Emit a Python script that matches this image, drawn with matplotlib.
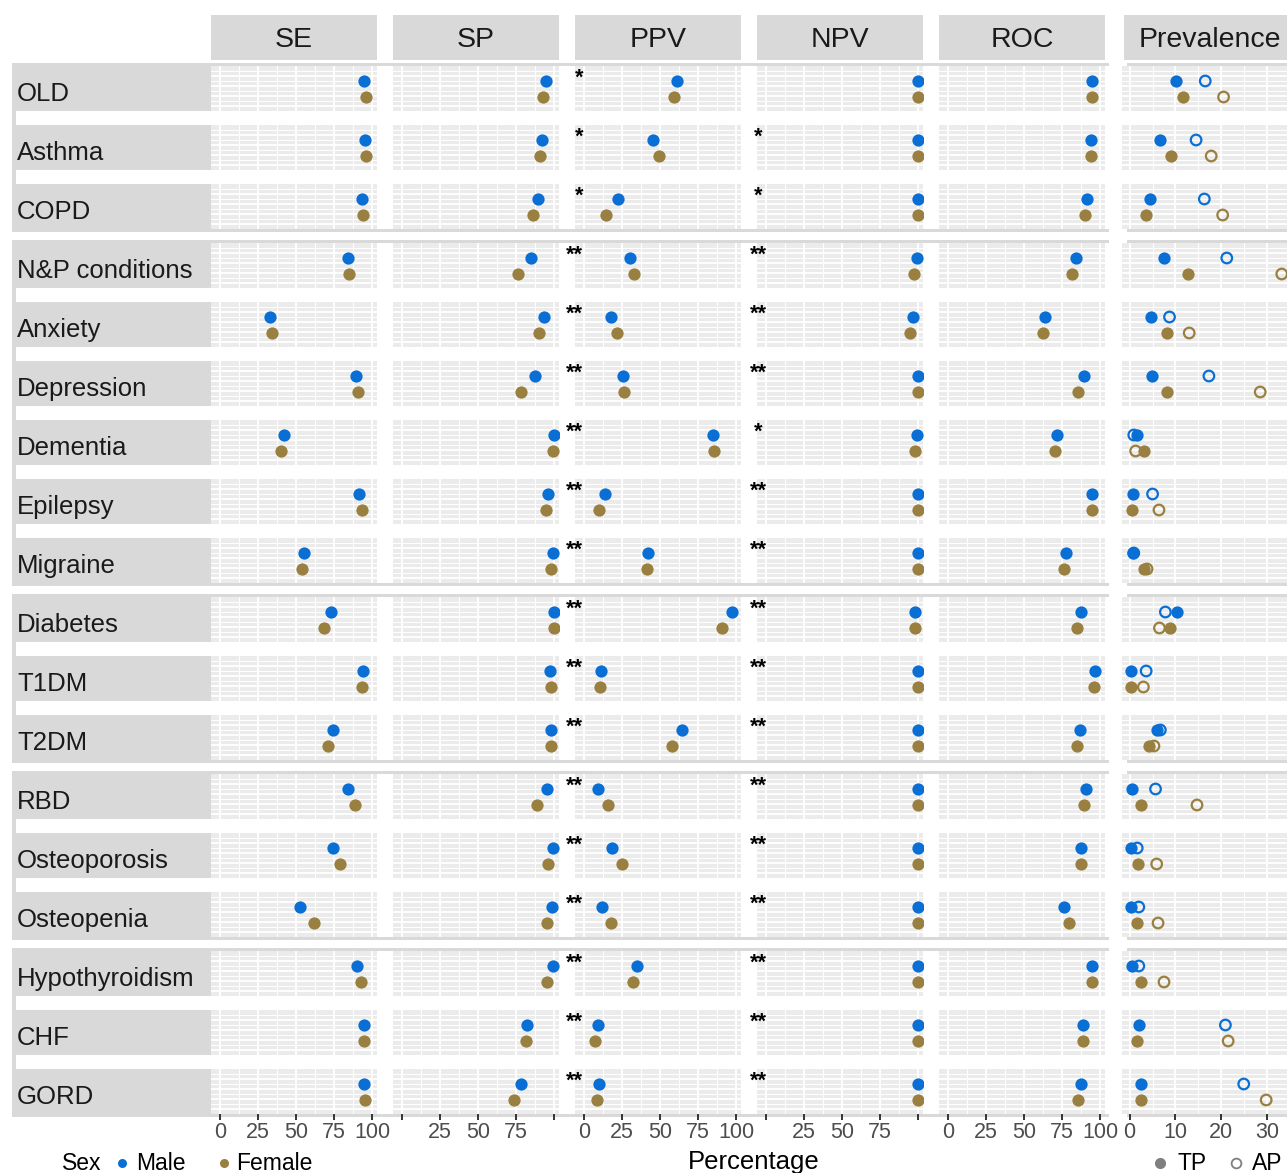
import matplotlib
matplotlib.use("Agg")
import matplotlib.pyplot as plt
from matplotlib.patches import Rectangle
from matplotlib.lines import Line2D

plt.rcParams['font.family'] = ['Liberation Sans', 'DejaVu Sans']

# ---------------- data ----------------
conditions = ['OLD', 'Asthma', 'COPD', 'N&P conditions', 'Anxiety', 'Depression',
              'Dementia', 'Epilepsy', 'Migraine', 'Diabetes', 'T1DM', 'T2DM',
              'RBD', 'Osteoporosis', 'Osteopenia', 'Hypothyroidism', 'CHF', 'GORD']
groups = [(0, 2), (3, 8), (9, 11), (12, 14), (15, 17)]
metrics = ['SE', 'SP', 'PPV', 'NPV', 'ROC', 'Prevalence']

se_male = [94.7, 95.4, 93.4, 84.2, 32.9, 89.5, 42.1, 91.4, 55.3, 73.0, 94.0, 74.3, 84.2, 74.3, 52.6, 90.1, 94.7, 94.7]
se_female = [96.0, 96.0, 94.0, 84.9, 34.2, 90.8, 40.1, 93.4, 53.9, 68.4, 93.4, 71.0, 88.8, 78.9, 61.8, 92.8, 94.7, 95.4]
sp_male = [94.7, 92.0, 89.5, 84.9, 93.4, 87.5, 99.8, 96.0, 99.3, 99.7, 97.4, 98.0, 95.4, 99.3, 98.7, 99.3, 82.2, 78.3]
sp_female = [92.8, 90.8, 86.2, 76.3, 90.1, 78.3, 99.5, 94.7, 98.0, 99.7, 98.0, 98.0, 88.8, 96.0, 95.4, 95.4, 81.6, 73.7]
ppv_male = [61.0, 45.4, 22.4, 30.3, 17.8, 25.7, 84.9, 13.8, 42.1, 97.4, 11.2, 64.5, 9.2, 18.4, 11.8, 34.9, 9.2, 9.9]
ppv_female = [59.0, 49.3, 14.5, 32.9, 21.7, 26.3, 85.5, 9.9, 41.4, 90.8, 10.5, 57.9, 15.8, 25.0, 17.8, 32.2, 7.2, 8.6]
npv_male = [99.7, 99.7, 99.7, 99.3, 96.7, 99.7, 99.3, 99.7, 99.7, 98.0, 99.7, 99.7, 99.7, 99.7, 99.7, 99.7, 99.7, 99.7]
npv_female = [99.7, 99.7, 99.7, 97.4, 94.7, 99.7, 98.0, 99.7, 99.7, 98.0, 99.7, 99.7, 99.7, 99.7, 99.7, 99.7, 99.7, 99.7]
roc_male = [94.7, 94.0, 91.4, 84.1, 63.6, 89.4, 71.5, 94.7, 77.5, 87.4, 96.7, 86.8, 90.7, 87.4, 76.2, 94.7, 88.7, 87.4]
roc_female = [94.7, 94.0, 90.0, 81.5, 62.3, 85.4, 70.2, 94.7, 76.2, 84.8, 96.0, 84.8, 89.4, 87.4, 79.5, 94.7, 88.7, 85.4]
prev_tp_male = [10.2, 6.7, 4.35, 7.6, 4.6, 4.9, 1.65, 0.65, 0.8, 10.3, 0.35, 6.0, 0.45, 0.3, 0.3, 0.55, 2.0, 2.5]
prev_tp_female = [11.7, 9.1, 3.5, 12.8, 8.2, 8.2, 3.1, 0.6, 3.1, 8.7, 0.3, 4.3, 2.5, 1.8, 1.65, 2.5, 1.5, 2.5]
prev_ap_male = [16.5, 14.5, 16.3, 21.2, 8.7, 17.3, 0.9, 5.0, 0.9, 7.8, 3.6, 6.7, 5.65, 1.65, 2.0, 2.0, 20.9, 24.9]
prev_ap_female = [20.5, 17.8, 20.3, 33.2, 13.0, 28.5, 1.3, 6.4, 3.8, 6.5, 3.0, 5.3, 14.7, 5.9, 6.2, 7.5, 21.5, 29.8]
ppv_sig = ['*', '*', '*'] + ['**'] * 15
npv_sig = ['', '*', '*', '**', '**', '**', '*', '**', '**', '**', '**', '**', '**', '**', '**', '**', '**', '**']

pct_data = {'SE': (se_male, se_female), 'SP': (sp_male, sp_female),
            'PPV': (ppv_male, ppv_female), 'NPV': (npv_male, npv_female),
            'ROC': (roc_male, roc_female)}
pct_ticks = [0, 25, 50, 75, 100]
pct_labels = {'SE': ['0', '25', '50', '75', '100'], 'SP': ['', '25', '50', '75', ''],
              'PPV': ['0', '25', '50', '75', '100'], 'NPV': ['', '25', '50', '75', ''],
              'ROC': ['0', '25', '50', '75', '100']}
prev_ticks = [0, 10, 20, 30]

# ---------------- style ----------------
MALE = '#0A6FD4'
FEMALE = '#9A8040'
STRIP = '#D9D9D9'
PANEL = '#EBEBEB'
W, H = 1287, 1173

fig = plt.figure(figsize=(W / 100, H / 100), dpi=100)


def rect(x0, y0, x1, y1):
    return [x0 / W, 1 - y1 / H, (x1 - x0) / W, (y1 - y0) / H]


def fx(x):
    return x / W


def fy(y):
    return 1 - y / H


def add_box(x0, y0, x1, y1, color=STRIP, z=-2):
    fig.add_artist(Rectangle((fx(x0), fy(y1)), (x1 - x0) / W, (y1 - y0) / H,
                             transform=fig.transFigure, facecolor=color,
                             edgecolor='none', zorder=z))


col_px = {'SE': (211, 377), 'SP': (393, 559), 'PPV': (575, 741),
          'NPV': (757, 923), 'ROC': (939, 1105), 'Prevalence': (1122, 1290)}
head_px = dict(col_px)
head_px['Prevalence'] = (1124, 1296)
ROW0, PITCH, RH = 66, 59, 45

# group frames
for (a, b) in groups:
    top = ROW0 + PITCH * a
    bot = ROW0 + PITCH * b + RH
    add_box(12, top - 3, 1109, top, z=-3)
    add_box(12, bot, 1109, bot + 3, z=-3)
    add_box(12, top - 3, 16, bot + 3, z=-3)
    add_box(1127, top - 3, 1296, top, z=-3)
    add_box(1127, bot, 1296, bot + 3, z=-3)

# column headers
for m in metrics:
    x0, x1 = head_px[m]
    add_box(x0, 15, x1, 60)
    fig.text(fx((x0 + x1) / 2), fy(47), m, ha='center', va='baseline',
             fontsize=20.5, color='#1A1A1A')

ylo, yhi = 2.875, 0.0625
hlines = [0.0625 + 0.3125 * k for k in range(1, 9)]

for i, cond in enumerate(conditions):
    top = ROW0 + PITCH * i
    bot = top + RH
    add_box(12, top, 211, bot)
    fig.text(fx(17), fy(top + 35), cond, ha='left', va='baseline',
             fontsize=18.5, color='#1A1A1A')
    for m in metrics:
        x0, x1 = col_px[m]
        ax = fig.add_axes(rect(x0, top, x1, bot))
        ax.set_facecolor(PANEL)
        for s in ax.spines.values():
            s.set_visible(False)
        if m == 'Prevalence':
            ax.set_xlim(-1.67, 35.0)
            majors, minors = prev_ticks, [5, 15, 25]
        else:
            ax.set_xlim(-6.0, 103.2)
            majors, minors = pct_ticks, [12.5, 37.5, 62.5, 87.5]
        ax.set_ylim(ylo, yhi)
        for v in majors:
            ax.axvline(v, color='white', lw=1.3, zorder=0.5)
        for v in minors:
            ax.axvline(v, color='white', lw=0.7, zorder=0.5)
        for k, v in enumerate(hlines):
            ax.axhline(v, color='white', lw=1.3 if k % 2 else 0.7, zorder=0.5)
        if m == 'Prevalence':
            ax.scatter([prev_ap_male[i]], [1], s=58, facecolors='none',
                       edgecolors=MALE, linewidths=1.6, zorder=3)
            ax.scatter([prev_ap_female[i]], [2], s=58, facecolors='none',
                       edgecolors=FEMALE, linewidths=1.6, zorder=3)
            ax.scatter([prev_tp_male[i]], [1], s=78, color=MALE, linewidths=0, zorder=2)
            ax.scatter([prev_tp_female[i]], [2], s=78, color=FEMALE, linewidths=0, zorder=2)
        else:
            mv, fv = pct_data[m]
            ax.scatter([mv[i]], [1], s=78, color=MALE, linewidths=0, zorder=3)
            ax.scatter([fv[i]], [2], s=78, color=FEMALE, linewidths=0, zorder=3)
        if m == 'PPV' and ppv_sig[i]:
            ax.text(-0.8, 0.17, ppv_sig[i], ha='right', va='top', fontsize=15.5,
                    fontweight='bold', color='black', clip_on=False)
        if m == 'NPV' and npv_sig[i]:
            ax.text(-5.3, 0.17, npv_sig[i], ha='center', va='top', fontsize=15.5,
                    fontweight='bold', color='black', clip_on=False)
        ax.set_yticks([])
        if i == len(conditions) - 1:
            if m == 'Prevalence':
                ax.set_xticks(prev_ticks)
                ax.set_xticklabels([str(t) for t in prev_ticks])
            else:
                ax.set_xticks(pct_ticks)
                ax.set_xticklabels(pct_labels[m])
            ax.tick_params(axis='x', length=4.5, width=1.4, color='#333333',
                           labelsize=15.5, labelcolor='#4D4D4D', pad=1.5)
        else:
            ax.set_xticks([])

# axis title
fig.text(fx(754), fy(1169), 'Percentage', ha='center', va='baseline',
         fontsize=18.5, color='black')

# legends
fig.text(fx(62), fy(1170), 'Sex', ha='left', va='baseline', fontsize=16.5)
fig.add_artist(Line2D([fx(122)], [fy(1163)], marker='o', markersize=6.5,
                      color=MALE, markeredgewidth=0, transform=fig.transFigure))
fig.text(fx(136), fy(1170), 'Male', ha='left', va='baseline', fontsize=16.5)
fig.add_artist(Line2D([fx(224)], [fy(1163)], marker='o', markersize=6.5,
                      color=FEMALE, markeredgewidth=0, transform=fig.transFigure))
fig.text(fx(236), fy(1170), 'Female', ha='left', va='baseline', fontsize=16.5)

fig.add_artist(Line2D([fx(1160)], [fy(1163)], marker='o', markersize=8,
                      color='#7F7F7F', markeredgewidth=0, transform=fig.transFigure))
fig.text(fx(1177), fy(1170), 'TP', ha='left', va='baseline', fontsize=16.5)
fig.add_artist(Line2D([fx(1236)], [fy(1163)], marker='o', markersize=7,
                      markerfacecolor='none', markeredgecolor='#7F7F7F',
                      markeredgewidth=1.3, linestyle='none', transform=fig.transFigure))
fig.text(fx(1252), fy(1170), 'AP', ha='left', va='baseline', fontsize=16.5)

fig.savefig('out.png', dpi=100)
